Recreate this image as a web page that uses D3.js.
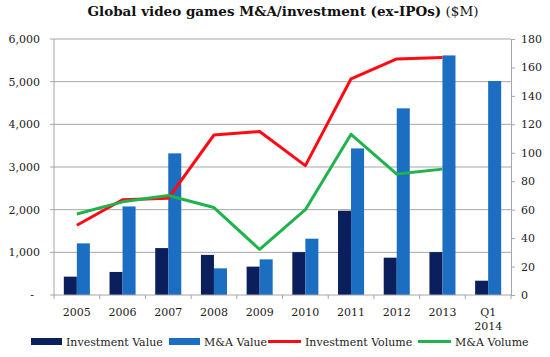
<!DOCTYPE html>
<html><head><meta charset="utf-8">
<script src="https://cdn.jsdelivr.net/npm/d3@7"></script>
<style>body{margin:0;background:#fff}svg{display:block}</style>
</head><body><svg id="c" width="550" height="357"></svg>
<script>
const categories = ["2005","2006","2007","2008","2009","2010","2011","2012","2013","Q1 2014"];
const investmentValue = [430, 540, 1100, 940, 665, 1005, 1975, 875, 1005, 335];
const maValue = [1210, 2075, 3320, 625, 835, 1320, 3435, 4375, 5615, 5015];
const investmentVolume = [49, 67, 68, 112.5, 115, 91, 152, 166, 167];
const maVolume = [57, 65.5, 70, 61.5, 32, 60, 113, 85, 88.5];
const leftTicks = [0,1000,2000,3000,4000,5000,6000];
const rightTicks = [0,20,40,60,80,100,120,140,160,180];

const FONT = "DejaVu Serif";
const colInv = "#0b1f5c", colMA = "#1b6ec2", colRed = "#ff0a14", colGreen = "#1fb34c";
const svg = d3.select("#c");
const L = 54, R = 511, T = 39, B = 295;

const x0 = d3.scaleBand().domain(categories).range([L, R]).paddingInner(0.43).paddingOuter(0.215);
const x1 = d3.scaleBand().domain(["inv","ma"]).range([0, x0.bandwidth()]);
const yL = d3.scaleLinear().domain([0, 6000]).range([B, T]);
const yR = d3.scaleLinear().domain([0, 180]).range([B, T]);
const xb = d3.scaleLinear().domain([0, categories.length]).range([L, R]);

// gridlines + left axis
const gridG = svg.append("g");
leftTicks.filter(d => d > 0).forEach(d => {
  gridG.append("line").attr("x1", L - 4).attr("x2", R).attr("y1", yL(d)).attr("y2", yL(d))
    .attr("stroke", "#a6a6a6").attr("stroke-width", 1);
});
gridG.append("line").attr("x1", L).attr("x2", L).attr("y1", T).attr("y2", B).attr("stroke", "#a6a6a6");
svg.append("g").selectAll("text").data(leftTicks).join("text")
  .attr("x", d => d === 0 ? 34 : 40).attr("y", d => yL(d)).attr("dy", "0.35em")
  .attr("text-anchor", "end").attr("font-family", FONT).attr("font-size", 11).attr("fill", "#222")
  .text(d => d === 0 ? "-" : d3.format(",")(d));

// right axis
const rAxis = d3.axisRight(yR).tickValues(rightTicks).tickSize(4).tickPadding(6);
const rg = svg.append("g").attr("transform", `translate(${R},0)`).call(rAxis);
rg.select(".domain").attr("stroke", "#a6a6a6");
rg.selectAll(".tick line").attr("stroke", "#a6a6a6");
rg.selectAll("text").attr("font-family", FONT).attr("font-size", 11).attr("fill", "#222");

// bars
const bars = svg.append("g");
categories.forEach((c, i) => {
  bars.append("rect").attr("x", x0(c) + x1("inv")).attr("width", x1.bandwidth())
    .attr("y", yL(investmentValue[i])).attr("height", B - yL(investmentValue[i])).attr("fill", colInv);
  bars.append("rect").attr("x", x0(c) + x1("ma")).attr("width", x1.bandwidth())
    .attr("y", yL(maValue[i])).attr("height", B - yL(maValue[i])).attr("fill", colMA);
});

// bottom axis
svg.append("line").attr("x1", L - 4).attr("x2", R).attr("y1", B).attr("y2", B).attr("stroke", "#a6a6a6");
svg.append("g").selectAll("line").data(d3.range(categories.length + 1)).join("line")
  .attr("x1", d => xb(d)).attr("x2", d => xb(d)).attr("y1", B).attr("y2", B + 4).attr("stroke", "#a6a6a6");
const cx = c => x0(c) + x0.bandwidth() / 2;
const lab = svg.append("g").attr("font-family", FONT).attr("font-size", 11).attr("fill", "#222").attr("text-anchor", "middle");
categories.forEach(c => {
  const parts = c.split(" ");
  parts.forEach((p, k) => {
    lab.append("text").attr("x", cx(c)).attr("y", 316 + k * 14).text(p);
  });
});

// lines
const line = d3.line().x((d, i) => cx(categories[i])).y(d => yR(d));
svg.append("path").datum(investmentVolume).attr("d", line).attr("fill", "none")
  .attr("stroke", colRed).attr("stroke-width", 3).attr("stroke-linejoin", "round");
svg.append("path").datum(maVolume).attr("d", line).attr("fill", "none")
  .attr("stroke", colGreen).attr("stroke-width", 3).attr("stroke-linejoin", "round");

// title
const title = svg.append("text").attr("x", 283).attr("y", 16).attr("text-anchor", "middle")
  .attr("font-family", FONT).attr("font-size", 13.5).attr("fill", "#111");
title.append("tspan").attr("font-weight", "bold").text("Global video games M&A/investment (ex-IPOs)");
title.append("tspan").text(" ($M)");

// legend
const leg = svg.append("g").attr("font-family", FONT).attr("font-size", 11).attr("fill", "#222");
const items = [
  {t: "Investment Value", type: "rect", c: colInv, x: 31},
  {t: "M&A Value", type: "rect", c: colMA, x: 169},
  {t: "Investment Volume", type: "line", c: colRed, x: 268},
  {t: "M&A Volume", type: "line", c: colGreen, x: 418}
];
items.forEach(it => {
  if (it.type === "rect") leg.append("rect").attr("x", it.x).attr("y", 338).attr("width", 31).attr("height", 7).attr("fill", it.c);
  else leg.append("line").attr("x1", it.x).attr("x2", it.x + 33).attr("y1", 341.5).attr("y2", 341.5).attr("stroke", it.c).attr("stroke-width", 3);
  leg.append("text").attr("x", it.x + (it.type === "rect" ? 35 : 37)).attr("y", 342).attr("dy", "0.35em").text(it.t);
});
</script></body></html>
